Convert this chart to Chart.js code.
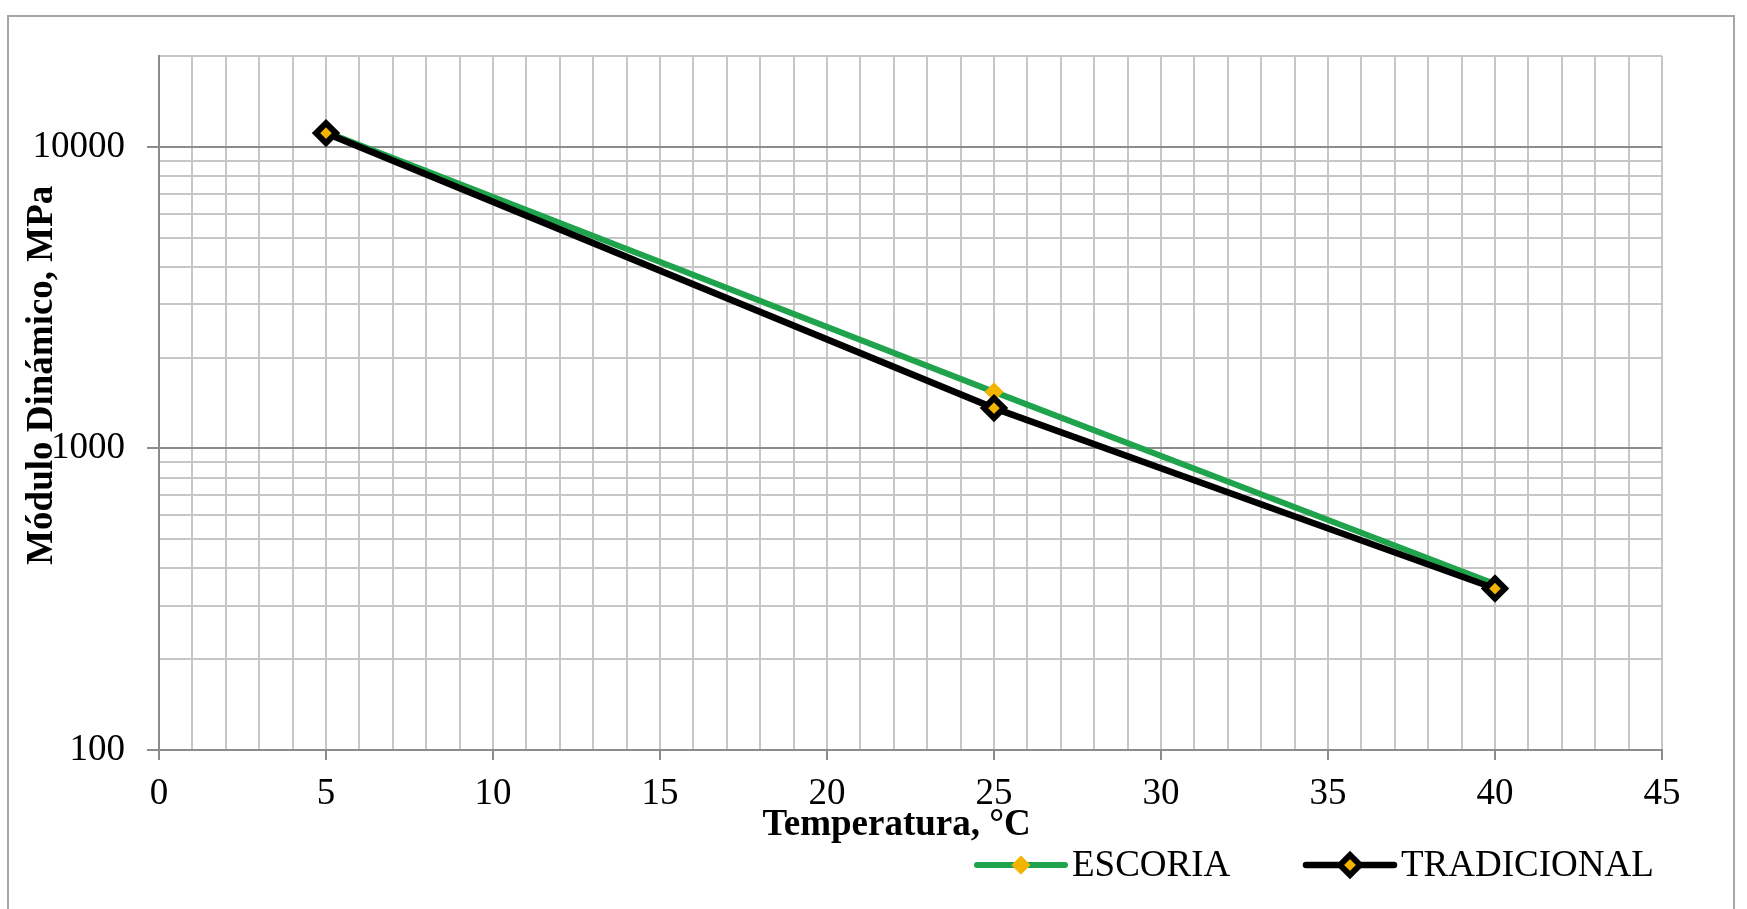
<!DOCTYPE html>
<html>
<head>
<meta charset="utf-8">
<title>Módulo Dinámico vs Temperatura</title>
<script src="https://cdn.jsdelivr.net/npm/chart.js@4"></script>
<style>
  html, body { margin: 0; padding: 0; background: #fff; overflow: hidden; }
  #frame { position: absolute; left: 7px; top: 15px; width: 1724px; height: 1000px; border: 2px solid #a6a6a6; }
  #chart { position: absolute; left: 0; top: 0; }
</style>
</head>
<body>
<div id="frame"></div>
<canvas id="chart" width="1747" height="909"></canvas>
<script>
// temperatures (°C) where the modulus was measured
const temperatures = [5, 25, 40];
// dynamic modulus, MPa
const escoria = [11200, 1540, 355];
const tradicional = [11100, 1360, 343];

const seriesNames = ["ESCORIA", "TRADICIONAL"];
const xTickLabels = [0, 5, 10, 15, 20, 25, 30, 35, 40, 45];
const yTickLabels = [100, 1000, 10000];

const GREEN = "#1fa34c";
const YELLOW = "#f2b400";
const MAJOR_GRID = "#8c8c8c";
const MINOR_GRID = "#c6c6c6";

// log gridlines 100..900, 1000..9000, 10000, 20000
function logGrid(min, max) {
  const out = [];
  for (let dec = min; dec < max; dec *= 10) {
    for (let m = 1; m <= 9; m++) {
      const v = m * dec;
      if (v <= max) out.push(v);
    }
  }
  if (out[out.length - 1] !== max) out.push(max);
  return out;
}

function toPoints(xs, ys) {
  return xs.map((x, i) => ({ x: x, y: ys[i] }));
}

// legend drawn under the axis title, line + marker + text like the original
const legendPlugin = {
  id: "lineLegend",
  afterDraw(chart) {
    const ctx = chart.ctx;
    const starts = [977, 1306];
    const y = 865;
    chart.data.datasets.forEach((ds, i) => {
      const x0 = starts[i];
      const len = 88;
      ctx.save();
      ctx.strokeStyle = ds.borderColor;
      ctx.lineWidth = ds.borderWidth;
      ctx.lineCap = "round";
      ctx.beginPath();
      ctx.moveTo(x0, y);
      ctx.lineTo(x0 + len, y);
      ctx.stroke();
      const cx = x0 + len / 2;
      const r = ds.pointRadius;
      ctx.beginPath();
      ctx.moveTo(cx - r, y);
      ctx.lineTo(cx, y - r);
      ctx.lineTo(cx + r, y);
      ctx.lineTo(cx, y + r);
      ctx.closePath();
      ctx.fillStyle = ds.pointBackgroundColor;
      ctx.fill();
      ctx.lineWidth = ds.pointBorderWidth;
      ctx.strokeStyle = ds.pointBorderColor;
      ctx.stroke();
      ctx.fillStyle = "#000";
      ctx.font = "37px 'Liberation Serif'";
      ctx.textBaseline = "middle";
      ctx.textAlign = "left";
      ctx.fillText(ds.label, x0 + len + 7, y + 1);
      ctx.restore();
    });
  }
};

Chart.defaults.font.family = "'Liberation Serif', 'Times New Roman', serif";
Chart.defaults.color = "#000";

new Chart(document.getElementById("chart"), {
  type: "line",
  data: {
    datasets: [
      {
        label: seriesNames[0],
        data: toPoints(temperatures, escoria),
        borderColor: GREEN,
        borderWidth: 6,
        pointStyle: "rectRot",
        pointRadius: 9,
        pointBackgroundColor: YELLOW,
        pointBorderColor: YELLOW,
        pointBorderWidth: 1,
        tension: 0,
        order: 1
      },
      {
        label: seriesNames[1],
        data: toPoints(temperatures, tradicional),
        borderColor: "#000",
        borderWidth: 6.5,
        pointStyle: "rectRot",
        pointRadius: 10,
        pointBackgroundColor: YELLOW,
        pointBorderColor: "#000",
        pointBorderWidth: 6,
        tension: 0,
        order: 0
      }
    ]
  },
  options: {
    responsive: false,
    animation: false,
    devicePixelRatio: 1,
    events: [],
    layout: { padding: { left: 0, top: 56, right: 85, bottom: 59 } },
    plugins: {
      legend: { display: false },
      tooltip: { enabled: false }
    },
    scales: {
      x: {
        type: "linear",
        min: 0,
        max: 45,
        afterFit: (s) => { s.height = 100; },
        ticks: {
          stepSize: 1,
          autoSkip: false,
          maxRotation: 0,
          padding: 12,
          font: { size: 37 },
          callback: (v) => (xTickLabels.includes(v) ? String(v) : "")
        },
        grid: {
          color: MINOR_GRID,
          lineWidth: 2,
          tickLength: 10,
          tickWidth: 2,
          tickColor: (c) => (c.tick && c.tick.value % 5 === 0 ? MAJOR_GRID : "rgba(0,0,0,0)")
        },
        border: { color: MAJOR_GRID, width: 2 },
        title: {
          display: true,
          text: "Temperatura, °C   ",
          font: { size: 37, weight: "bold" },
          padding: { top: 0, bottom: 2 }
        }
      },
      y: {
        type: "logarithmic",
        min: 100,
        max: 20000,
        afterFit: (s) => { s.width = 159; },
        afterBuildTicks: (s) => { s.ticks = logGrid(100, 20000).map((v) => ({ value: v })); },
        ticks: {
          autoSkip: false,
          padding: 22,
          font: { size: 37 },
          callback: (v) => (yTickLabels.includes(v) ? String(v) : "")
        },
        grid: {
          color: (c) => (c.tick && yTickLabels.includes(c.tick.value) ? MAJOR_GRID : MINOR_GRID),
          lineWidth: 2,
          tickLength: 12,
          tickWidth: 2,
          tickColor: (c) => (c.tick && yTickLabels.includes(c.tick.value) ? MAJOR_GRID : "rgba(0,0,0,0)")
        },
        border: { color: MAJOR_GRID, width: 2 },
        title: {
          display: true,
          text: "      Módulo Dinámico, MPa",
          font: { size: 37, weight: "bold" },
          padding: { top: 20, bottom: 0 }
        }
      }
    }
  },
  plugins: [legendPlugin]
});
</script>
</body>
</html>
